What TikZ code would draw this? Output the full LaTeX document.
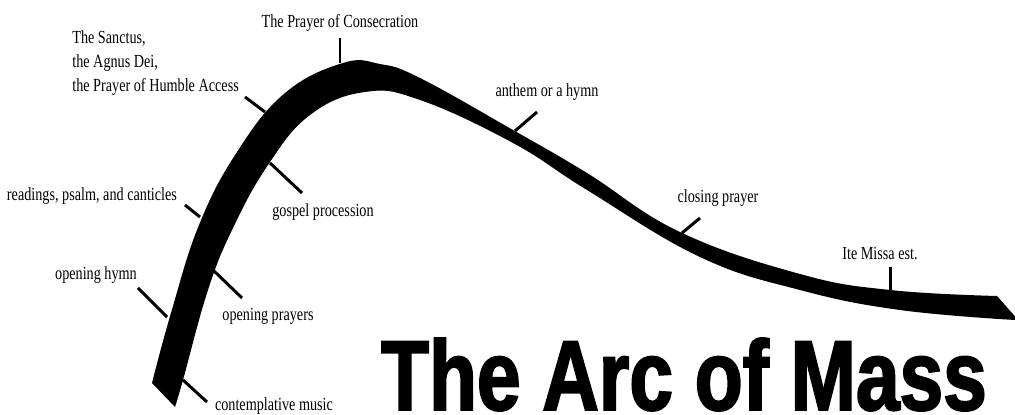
\documentclass[tikz,border=0pt]{standalone}
\usepackage{fontspec}
\newfontfamily\labelfont[FakeStretch=0.77]{Liberation Serif}
\newfontfamily\titlefont[FakeStretch=0.79,FakeBold=2]{Liberation Sans}

\tikzset{
  lbl/.style={inner sep=0pt,font=\labelfont\fontsize{10.5}{13.7}\selectfont},
  tick/.style={line width=1.7pt},
}

\begin{document}
\begin{tikzpicture}[x=0.02cm,y=-0.02cm]
\useasboundingbox (0,0) rectangle (1015,415);
% the arc
\fill plot[smooth,tension=0.7] coordinates {(152,383) (171,313) (199,225) (237,152) (285,93) (343,63) (380,64) (420,78) (513,130) (587,173) (680,232) (800,274) (890,290) (997,296)}
  -- (1020,322)
  -- plot[smooth,tension=0.7] coordinates {(1015,320) (900,310) (800,290) (700,257) (587,190) (513,143) (420,100) (365,92) (310,115) (268,165) (233,228) (208,290) (183,380) (175,407)} -- cycle;

% labels
\node[lbl,anchor=north west,align=left] (sanctus) at (72,30) {The Sanctus,\\the Agnus Dei,\\the Prayer of Humble Access};
\node[lbl,anchor=base] (cons) at (340,28) {The Prayer of Consecration};
\node[lbl,anchor=base] (read) at (92,201) {readings, psalm, and canticles};
\node[lbl,anchor=base] (gospel) at (323,217) {gospel procession};
\node[lbl,anchor=base] (ohymn) at (96,280) {opening hymn};
\node[lbl,anchor=base] (oprayer) at (268,321) {opening prayers};
\node[lbl,anchor=base] (contemp) at (274,411) {contemplative music};
\node[lbl,anchor=base] (anthem) at (547,97) {anthem or a hymn};
\node[lbl,anchor=base] (closing) at (718,203) {closing prayer};
\node[lbl,anchor=base] (ite) at (880,260) {Ite Missa est.};
\node[inner sep=0pt,anchor=base,font=\titlefont\bfseries\fontsize{56.5}{60}\selectfont] (title) at (684,410) {The Arc of Mass};

% ticks
\coordinate (consT) at (340,38);   \coordinate (consA) at (340,63);
\coordinate (sancT) at (245,97);   \coordinate (sancA) at (265,112);
\coordinate (gospT) at (302,193);  \coordinate (gospA) at (270,163);
\coordinate (readT) at (185,205);  \coordinate (readA) at (200,217);
\coordinate (hymnT) at (138,288);  \coordinate (hymnA) at (167,317);
\coordinate (prayT) at (242,298);  \coordinate (prayA) at (213,270);
\coordinate (contT) at (207,402);  \coordinate (contA) at (183,380);
\coordinate (anthT) at (537,112);  \coordinate (anthA) at (515,131);
\coordinate (closT) at (700,218);  \coordinate (closA) at (682,233);
\coordinate (iteT) at (890,267);   \coordinate (iteA) at (890,290);
\draw[tick] (consT) -- (consA);
\draw[tick] (sancT) -- (sancA);
\draw[tick] (gospT) -- (gospA);
\draw[tick] (readT) -- (readA);
\draw[tick] (hymnT) -- (hymnA);
\draw[tick] (prayT) -- (prayA);
\draw[tick] (contT) -- (contA);
\draw[tick] (anthT) -- (anthA);
\draw[tick] (closT) -- (closA);
\draw[tick] (iteT) -- (iteA);
\end{tikzpicture}
\end{document}
